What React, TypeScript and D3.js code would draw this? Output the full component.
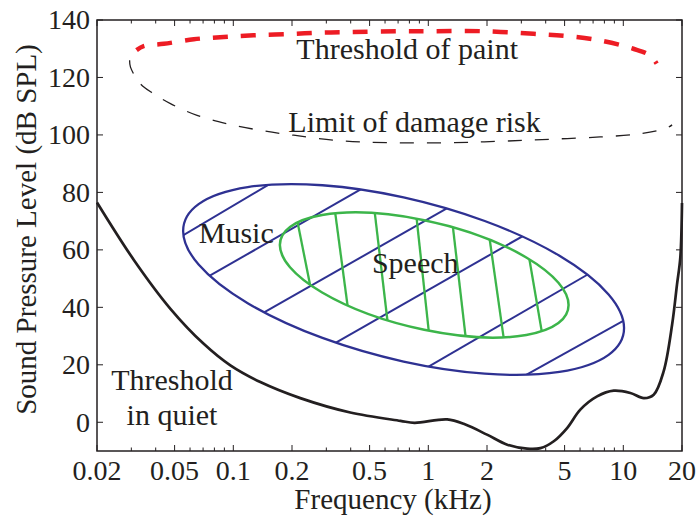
import React from "react";
import * as d3 from "d3";

// frequency in kHz, level in dB SPL
const xTickLabels = [0.02, 0.05, 0.1, 0.2, 0.5, 1, 2, 5, 10, 20];
const yTickLabels = [0, 20, 40, 60, 80, 100, 120, 140];

const quietThreshold: [number, number][] = [
  [0.02, 76.5], [0.0309, 56.5], [0.0476, 39.5], [0.0705, 27.3], [0.0966, 19.8],
  [0.1376, 14.0], [0.2206, 8.4], [0.398, 3.4], [0.72, 0.5], [0.85, -0.2],
  [1.25, 1.0], [1.55, -0.8], [2.0, -4.3], [2.54, -7.8], [3.21, -9.2],
  [3.76, -9.0], [4.4, -6.6], [5.15, -2.0], [6.02, 4.4], [7.34, 9.0],
  [8.93, 11.0], [10.87, 10.2], [12.73, 8.4], [14.32, 9.6], [16.1, 17.7],
  [17.8, 34], [18.85, 47.9], [19.6, 57.2], [20, 76.3],
];

const painThreshold: [number, number][] = [
  [0.0319, 129.5], [0.0347, 130.9], [0.044, 131.7], [0.0627, 133.3], [0.0893, 134.1],
  [0.127, 134.7], [0.1886, 135.1], [0.279, 135.6], [0.414, 135.8], [0.69, 136.1],
  [1.064, 136.1], [1.918, 136.1], [3.46, 135.2], [5.13, 134.4], [7.6, 132.9],
  [11.26, 130], [13.7, 127.7], [14.84, 124.8],
];

const damageRisk: [number, number][] = [
  [0.0294, 126], [0.0297, 123.6], [0.0334, 117.8], [0.0391, 114.3], [0.0476, 110.9],
  [0.0652, 106.8], [0.093, 103.9], [0.1376, 101.6], [0.204, 99.9], [0.34, 98.1],
  [0.614, 97.3], [1.295, 97.3], [2.34, 97.8], [4.21, 98.5], [7.6, 99.3],
  [12.19, 100.4], [16.7, 102.4], [17.8, 103.5],
];

// leftmost and rightmost points of each area, then its lowest and highest level
const musicEnds: [number, number][] = [[0.0553, 66.6], [10.09, 32.8]];
const musicLevels = [16.8, 83.2];
const speechEnds: [number, number][] = [[0.1733, 61.7], [5.24, 40.8]];
const speechLevels = [29.7, 73.2];

// hatch segments: [f1, dB1, f2, dB2]
const musicHatch: number[][] = [
  [0.0557, 65.2, 0.1518, 82.7],
  [0.0793, 51.8, 0.4389, 80.6],
  [0.149, 38.8, 1.22, 74.1],
  [0.3609, 28.9, 2.98, 64.4],
  [1.04, 20, 6.37, 50.9],
  [3.4, 17.6, 9.82, 35],
];

const speechHatch: number[][] = [
  [0.2122, 70.6, 0.2453, 49.2],
  [0.3334, 72.7, 0.383, 42],
  [0.5346, 71.5, 0.614, 36.7],
  [0.874, 70.1, 1.0, 33.2],
  [1.346, 66.3, 1.546, 31],
  [2.076, 62.5, 2.43, 29.8],
  [3.327, 55.3, 3.82, 31.5],
];

const W = 697;
const H = 517;
const left = 97;
const right = 682;
const top = 20;
const bottom = 451;

const ink = "#231f20";
const blue = "#2e3192";
const green = "#3cb54a";
const red = "#ed1c24";
const serif = "'Liberation Serif', 'Times New Roman', serif";

export default function App() {
  const x = d3.scaleLog().domain([0.02, 20]).range([left, right]);
  const y = d3.scaleLinear().domain([-10, 140]).range([bottom, top]);

  const smooth = d3
    .line<[number, number]>()
    .x((d) => x(d[0]))
    .y((d) => y(d[1]))
    .curve(d3.curveCatmullRom.alpha(0.5));

  // unit circle -> tilted ellipse through the given extremes
  const ellipseMatrix = (ends: [number, number][], levels: number[]) => {
    const xl = x(ends[0][0]), yl = y(ends[0][1]);
    const xr = x(ends[1][0]), yr = y(ends[1][1]);
    const cx = (xl + xr) / 2, cy = (yl + yr) / 2;
    const w = (xr - xl) / 2;
    const dy = yr - cy;
    const h = (y(levels[0]) - y(levels[1])) / 2;
    const k = Math.sqrt(Math.max(h * h - dy * dy, 1));
    return `matrix(${w},${dy},0,${k},${cx},${cy})`;
  };
  const musicT = ellipseMatrix(musicEnds, musicLevels);
  const speechT = ellipseMatrix(speechEnds, speechLevels);

  const hatch = (h: number[]) => {
    const x1 = x(h[0]), y1 = y(h[1]), x2 = x(h[2]), y2 = y(h[3]);
    const len = Math.hypot(x2 - x1, y2 - y1);
    const ux = (x2 - x1) / len, uy = (y2 - y1) / len;
    const ext = 10;
    return { x1: x1 - ux * ext, y1: y1 - uy * ext, x2: x2 + ux * ext, y2: y2 + uy * ext };
  };

  const allTicks = x.ticks();
  const isMajor = (t: number) => xTickLabels.some((v) => Math.abs(v - t) < 1e-9);
  const fmt = (v: number) => String(v);

  return (
    <svg width={W} height={H} style={{ position: "absolute", left: 0, top: 0 }}>
      <defs>
        <clipPath id="musicClip">
          <circle r={1} transform={musicT} />
        </clipPath>
        <clipPath id="speechClip">
          <circle r={1} transform={speechT} />
        </clipPath>
      </defs>
      <rect width={W} height={H} fill="white" />

      {/* threshold in quiet */}
      <path d={smooth(quietThreshold) || ""} fill="none" stroke={ink} strokeWidth={2.7} />

      {/* music area */}
      <g clipPath="url(#musicClip)">
        {musicHatch.map((h, i) => (
          <line key={"m" + i} {...hatch(h)} stroke={blue} strokeWidth={2} />
        ))}
      </g>
      <circle r={1} transform={musicT} fill="none" stroke={blue} strokeWidth={2.3} vectorEffect="non-scaling-stroke" />

      {/* speech area */}
      <g clipPath="url(#speechClip)">
        {speechHatch.map((h, i) => (
          <line key={"s" + i} {...hatch(h)} stroke={green} strokeWidth={2.3} />
        ))}
      </g>
      <circle r={1} transform={speechT} fill="none" stroke={green} strokeWidth={2.5} vectorEffect="non-scaling-stroke" />

      <path d={smooth(painThreshold) || ""} fill="none" stroke={red} strokeWidth={4.5} strokeDasharray="15,13" strokeDashoffset={6} />
      <path d={smooth(damageRisk) || ""} fill="none" stroke={ink} strokeWidth={1.3} strokeDasharray="14,13" />

      {/* annotations */}
      <g fontFamily={serif} fontSize={30} fill={ink}>
        <text x={x(0.2106)} y={y(126.4)}>Threshold of paint</text>
        <text x={x(0.1915)} y={y(101)}>Limit of damage risk</text>
        <text x={x(0.0665)} y={y(62.5)}>Music</text>
        <text x={x(0.514)} y={y(51.8)}>Speech</text>
        <text x={x(0.0485)} y={y(11.3)} textAnchor="middle">Threshold</text>
        <text x={x(0.0485)} y={y(-0.9)} textAnchor="middle">in quiet</text>
      </g>

      {/* frame and ticks */}
      <rect x={left} y={top} width={right - left} height={bottom - top} fill="none" stroke={ink} strokeWidth={1.5} />
      {allTicks.map((t, i) => {
        const len = isMajor(t) ? 6 : 3.5;
        return (
          <g key={"xt" + i}>
            <line x1={x(t)} x2={x(t)} y1={bottom} y2={bottom - len} stroke={ink} strokeWidth={1} />
            <line x1={x(t)} x2={x(t)} y1={top} y2={top + len} stroke={ink} strokeWidth={1} />
          </g>
        );
      })}
      {yTickLabels.map((t) => (
        <g key={"yt" + t}>
          <line x1={left} x2={left + 6} y1={y(t)} y2={y(t)} stroke={ink} strokeWidth={1} />
          <line x1={right} x2={right - 6} y1={y(t)} y2={y(t)} stroke={ink} strokeWidth={1} />
        </g>
      ))}

      <g fontFamily={serif} fontSize={28} fill={ink}>
        {xTickLabels.map((t) => (
          <text key={"xl" + t} x={x(t)} y={bottom + 29} textAnchor="middle">{fmt(t)}</text>
        ))}
        {yTickLabels.map((t) => (
          <text key={"yl" + t} x={left - 7} y={y(t)} dy="0.33em" textAnchor="end">{fmt(t)}</text>
        ))}
      </g>

      <text x={393} y={509} textAnchor="middle" fontFamily={serif} fontSize={29} fill={ink}>
        Frequency (kHz)
      </text>
      <text
        transform={`translate(36, ${(top + bottom) / 2 - 6}) rotate(-90)`}
        textAnchor="middle"
        fontFamily={serif}
        fontSize={29}
        fill={ink}
      >
        Sound Pressure Level (dB SPL)
      </text>
    </svg>
  );
}
